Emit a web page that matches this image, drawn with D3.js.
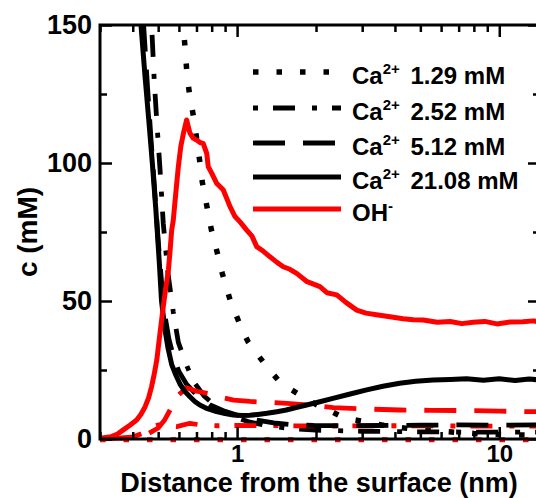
<!DOCTYPE html>
<html><head><meta charset="utf-8">
<script src="https://cdn.jsdelivr.net/npm/d3@7"></script>
<style>body{margin:0;background:#fff}svg{display:block}</style>
</head><body>
<svg id="c" width="536" height="498"></svg>
<script>
// ---------- data ----------
const yTicks = [0, 50, 100, 150];
const yMinorTicks = [25, 75, 125];
const xTicks = [1, 10];
const xMinorTicks = [0.3, 0.4, 0.5, 0.6, 0.7, 0.8, 0.9, 2, 3, 4, 5, 6, 7, 8, 9];

const legendLabels = ["1.29 mM", "2.52 mM", "5.12 mM", "21.08 mM"];

// Ca2+ 1.29 mM (dotted)
const ca129X = [0.6,0.62,0.633,0.642,0.656,0.687,0.722,0.737,0.752,0.797,0.848,0.878,0.94,1.04,1.1,1.2,1.315,1.45,1.615,1.74,2.0,2.3,2.47,2.66,2.86,3.12,3.6,4.5,6,8,10,14.3];
const ca129Y = [170,152,142,134,126,115,100,93,88.6,76,66,60,50.4,40,35.3,30.4,25.6,20.8,17.8,15.9,12.5,9.9,8.4,7.3,6.8,6.2,5,3.8,2.8,2,1.6,1.3];
// Ca2+ 2.52 mM (dash-dot)
const ca252X = [0.46,0.472,0.483,0.494,0.508,0.523,0.545,0.571,0.597,0.64,0.68,0.75,0.85,0.95,1.1,1.3,1.6,2,3,5,8,14.3];
const ca252Y = [175,150,130,115,98,78,60,46,35,27,21,15.5,11,8.5,6.3,4.8,3.8,3.2,2.8,2.6,2.5,2.5];
// Ca2+ 5.12 mM (long dash)
const ca512X = [0.425,0.44,0.455,0.47,0.485,0.5,0.515,0.53,0.55,0.575,0.6,0.64,0.7,0.79,0.9,1.03,1.19,1.38,1.6,1.95,2.5,3.5,5,7,10,14.3];
const ca512Y = [170,150,128,108,90,72,57,45,36,29,24.5,20,16,12.3,10,8.3,6.8,5.8,5.2,4.9,4.8,4.9,5.0,5.1,5.0,5.1];
// Ca2+ 21.08 mM (solid)
const ca2108X = [0.42,0.43,0.445,0.46,0.475,0.49,0.505,0.515,0.53,0.545,0.563,0.585,0.605,0.63,0.661,0.69,0.721,0.77,0.835,0.9,0.966,1.05,1.12,1.2,1.3,1.42,1.54,1.68,1.84,2.05,2.32,2.7,3.12,3.6,4.17,4.8,5.59,6.5,7.5,8.7,10,11.5,13,14.3];
const ca2108Y = [165,150,132,116,100,83,64,50,40,33,27,23,20,17.4,15.3,13.6,12.3,11,9.9,9.2,8.7,8.5,8.6,8.9,9.3,9.9,10.5,11.4,12.3,13.4,14.7,16.3,17.8,19.1,20.2,20.9,21.4,21.6,21.8,21.3,21.8,21.2,21.7,21.4];

// OH- curves
const oh129X = [0.3,0.5,1,2,5,14.3];
const oh129Y = [-0.3,-0.3,-0.3,-0.3,-0.3,-0.3];
const oh252X = [0.3,0.36,0.402,0.44,0.466,0.5,0.588,0.661,0.722,0.85,1,1.5,2.5,4,7,14.3];
const oh252Y = [0,0.3,0.8,2.2,3.9,5.1,4.5,5.7,5.1,4.8,4.9,4.8,4.7,4.8,4.7,4.7];
const oh512X = [0.3,0.4,0.45,0.5,0.53,0.555,0.588,0.642,0.70,0.79,0.88,0.97,1.12,1.3,1.55,1.95,2.33,3,4.17,5.5,7.5,10,13.5,14.3];
const oh512Y = [0,0.5,1.5,4,7,10.5,15.3,18.6,17.3,16.4,15,14.1,13.6,13.3,12.9,12.2,11.4,10.9,10.5,10.4,10.3,10.1,9.9,10];
const oh2108X = [0.3,0.33,0.35,0.368,0.39,0.414,0.43,0.446,0.46,0.472,0.483,0.494,0.508,0.523,0.535,0.547,0.555,0.563,0.571,0.585,0.597,0.61,0.624,0.642,0.652,0.661,0.68,0.701,0.72,0.743,0.766,0.776,0.8,0.836,0.86,0.886,0.94,0.982,1.03,1.088,1.14,1.188,1.26,1.335,1.42,1.5,1.59,1.687,1.85,2.07,2.2,2.4,2.6,2.86,3.1,3.4,3.83,4.3,4.7,5.13,5.8,6.5,7.2,7.95,8.8,9.8,11,12.3,13.5,14.3];
const oh2108Y = [0.3,0.8,1.8,3.3,5,6.9,9,11.7,15,19,23.5,28.6,38.3,48,55,61.2,68,75.7,79.3,90,98.7,106,110.7,115.6,113,110.8,109,108.3,107.5,107,103.5,98.7,96.3,92.6,91.5,90.2,84.2,80.6,78.5,75.7,73.5,69.7,68,66,64,62.4,61.5,60,57,55.2,53,52.2,49.5,46.7,45.6,45,44.3,43.6,43.2,43.1,42.3,42.6,41.8,42.3,42.6,41.7,42.4,42.5,42.8,42.3];

// ---------- chart ----------
const svg = d3.select("#c");
const FONT = "'Liberation Sans', Arial, Helvetica, sans-serif";
const X0 = 100, X1 = 540, Y0 = 25, Y1 = 439;
const x = d3.scaleLog().domain([0.3, 14.3]).range([X0, X1]);
const y = d3.scaleLinear().domain([0, 150]).range([Y1, Y0]);

svg.append("defs").append("clipPath").attr("id", "clip")
  .append("rect").attr("x", X0).attr("y", Y0).attr("width", X1 - X0).attr("height", Y1 - Y0 + 5);

const line = d3.line().x(d => x(d[0])).y(d => y(d[1]));
const zip = (a, b) => a.map((v, i) => [v, b[i]]);

const DOT = "5.5,18", DASHDOT = "5,15,22,17", DASH = "32,18";
const series = [
  {xs: ca129X, ys: ca129Y, color: "#000", dash: DOT, w: 5.5},
  {xs: oh129X, ys: oh129Y, color: "#ff0000", dash: DOT, w: 5},
  {xs: ca252X, ys: ca252Y, color: "#000", dash: DASHDOT, w: 4.8},
  {xs: oh252X, ys: oh252Y, color: "#ff0000", dash: DASHDOT, w: 4.8},
  {xs: ca512X, ys: ca512Y, color: "#000", dash: DASH, w: 4.8},
  {xs: oh512X, ys: oh512Y, color: "#ff0000", dash: DASH, w: 4.8},
  {xs: ca2108X, ys: ca2108Y, color: "#000", dash: null, w: 5},
  {xs: oh2108X, ys: oh2108Y, color: "#ff0000", dash: null, w: 5}
];
const g = svg.append("g").attr("clip-path", "url(#clip)");
series.forEach(s => {
  g.append("path").datum(zip(s.xs, s.ys))
    .attr("d", line).attr("fill", "none")
    .attr("stroke", s.color).attr("stroke-width", s.w)
    .attr("stroke-linejoin", "round")
    .attr("stroke-dasharray", s.dash);
});

// axes
function styleAxis(sel) {
  sel.select(".domain").remove();
  sel.selectAll("line").attr("stroke", "#000").attr("stroke-width", 2.5);
  sel.selectAll("text").attr("font-family", FONT).attr("font-weight", "bold")
    .attr("font-size", 27).attr("fill", "#000");
}
// bottom
svg.append("g").attr("transform", `translate(0,${Y1})`)
  .call(d3.axisBottom(x).tickValues(xTicks).tickSize(-12).tickPadding(6).tickFormat(d3.format("d")))
  .call(styleAxis).call(s => s.selectAll("text").attr("font-size", 24).attr("dy", "0.71em"));
svg.append("g").attr("transform", `translate(0,${Y1})`)
  .call(d3.axisBottom(x).tickValues(xMinorTicks).tickSize(-7).tickFormat(""))
  .call(styleAxis);
// top
svg.append("g").attr("transform", `translate(0,${Y0})`)
  .call(d3.axisTop(x).tickValues(xTicks).tickSize(-12).tickFormat(""))
  .call(styleAxis);
svg.append("g").attr("transform", `translate(0,${Y0})`)
  .call(d3.axisTop(x).tickValues(xMinorTicks).tickSize(-7).tickFormat(""))
  .call(styleAxis);
// left
svg.append("g").attr("transform", `translate(${X0},0)`)
  .call(d3.axisLeft(y).tickValues(yTicks).tickSize(-12).tickPadding(8))
  .call(styleAxis);
svg.append("g").attr("transform", `translate(${X0},0)`)
  .call(d3.axisLeft(y).tickValues(yMinorTicks).tickSize(-7).tickFormat(""))
  .call(styleAxis);
// right
svg.append("g").attr("transform", `translate(${X1},0)`)
  .call(d3.axisRight(y).tickValues(yTicks).tickSize(-12).tickFormat(""))
  .call(styleAxis);
svg.append("g").attr("transform", `translate(${X1},0)`)
  .call(d3.axisRight(y).tickValues(yMinorTicks).tickSize(-7).tickFormat(""))
  .call(styleAxis);

// frame
svg.append("rect").attr("x", X0).attr("y", Y0).attr("width", X1 - X0).attr("height", Y1 - Y0)
  .attr("fill", "none").attr("stroke", "#000").attr("stroke-width", 3);

// titles
svg.append("text").attr("x", 319).attr("y", 492).attr("text-anchor", "middle")
  .attr("font-family", FONT).attr("font-weight", "bold").attr("font-size", 27)
  .text("Distance from the surface (nm)");
svg.append("text").attr("transform", "translate(37,232) rotate(-90)").attr("text-anchor", "middle")
  .attr("font-family", FONT).attr("font-weight", "bold").attr("font-size", 28)
  .text("c (mM)");

// legend
const legendStyles = [
  {color: "#000", dash: DOT, w: 5.5},
  {color: "#000", dash: DASHDOT, w: 4.8},
  {color: "#000", dash: DASH, w: 4.8},
  {color: "#000", dash: null, w: 4.8},
  {color: "#ff0000", dash: null, w: 4.8}
];
const legendY = [72, 108, 143, 177, 209];
const lg = svg.append("g");
legendStyles.forEach((st, i) => {
  const ly = legendY[i];
  lg.append("line").attr("x1", 253).attr("x2", 341).attr("y1", ly).attr("y2", ly)
    .attr("stroke", st.color).attr("stroke-width", st.w).attr("stroke-dasharray", st.dash);
  const t = lg.append("text").attr("x", 352).attr("y", ly + 12)
    .attr("font-family", FONT).attr("font-weight", "bold").attr("font-size", 24).attr("fill", "#000");
  if (i < 4) {
    t.append("tspan").text("Ca");
    t.append("tspan").attr("dy", -10).attr("font-size", 15).text("2+");
    t.append("tspan").attr("dy", 10).attr("dx", 4).text(" " + legendLabels[i]);
  } else {
    t.append("tspan").text("OH");
    t.append("tspan").attr("dy", -10).attr("font-size", 15).text("-");
  }
});
</script>
</body></html>
